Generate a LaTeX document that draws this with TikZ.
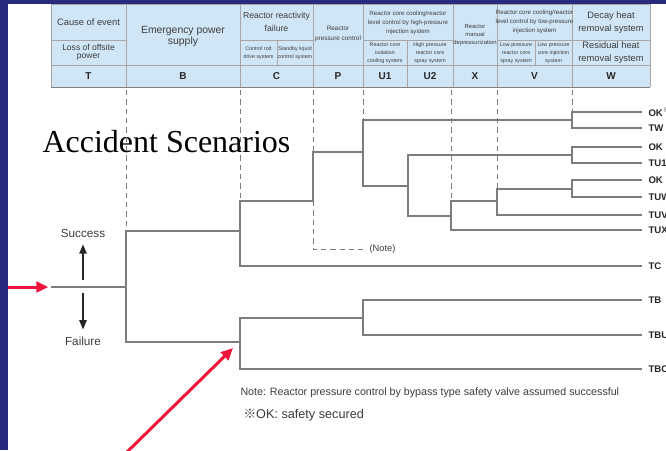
\documentclass[tikz,border=0pt]{standalone}
\usepackage{fontspec}
\setmainfont{Liberation Serif}
\setsansfont{Liberation Sans}
\newfontfamily\cjk{Noto Sans CJK JP}
\usetikzlibrary{arrows.meta}

\definecolor{slideblue}{RGB}{40,42,125}
\definecolor{headblue}{RGB}{208,230,246}
\definecolor{pointred}{RGB}{238,20,60}
\definecolor{treegray}{RGB}{125,125,125}
\definecolor{inkgray}{RGB}{60,60,60}

\tikzset{every picture/.style={line width=0.75pt}}

\begin{document}
\begin{tikzpicture}[x=0.75pt,y=0.75pt,yscale=-1,xscale=1,
	branch/.style={draw=treegray,line width=1pt},
	guide/.style={draw=treegray,line width=0.6pt,dash pattern={on 4pt off 3pt}},
	grid/.style={draw=gray!70,line width=0.6pt},
	leaf/.style={anchor=west,inner xsep=4.5pt,inner ysep=0pt,text=black!85,font=\sffamily\bfseries\fontsize{7.2}{8}\selectfont},
	cellbig/.style={align=center,inner sep=0pt,text=inkgray,font=\sffamily\fontsize{7}{9.75}\selectfont},
	cellmid/.style={align=center,inner sep=0pt,text=inkgray,font=\sffamily\fontsize{6.3}{6.2}\selectfont},
	cellsmall/.style={align=center,inner sep=0pt,text=inkgray,font=\sffamily\fontsize{4}{6.1}\selectfont},
	letter/.style={inner sep=0pt,text=black!85,font=\sffamily\bfseries\fontsize{7.5}{9}\selectfont},
	remark/.style={anchor=west,inner sep=0pt,text=inkgray,font=\sffamily\fontsize{8}{9}\selectfont},
	redarrow/.style={draw=pointred,line width=2.25pt,-{Triangle[length=9pt,width=8pt]}},
	inkarrow/.style={draw=black!85,line width=1pt,-{Triangle[length=7pt,width=5.5pt]}}]
	\useasboundingbox (0,0) rectangle (666,450);
	
	%slide background
	\fill [white] (0,0) rectangle (666,450);
	\fill [slideblue] (0,0) rectangle (8,450);
	\fill [slideblue] (0,0) rectangle (666,4);
	
	%Header table
	\fill [headblue] (51,4) rectangle (650,87);
	\draw [grid] (51,4) -- (650,4);
	\draw [grid] (51,40) -- (126,40);
	\draw [grid] (240,40) -- (313,40);
	\draw [grid] (363,40) -- (453,40);
	\draw [grid] (497,40) -- (650,40);
	\draw [grid] (51,65) -- (650,65);
	\draw [grid,draw=gray] (51,87) -- (650,87);
	\draw [grid] (51,4) -- (51,87);
	\draw [grid] (126,4) -- (126,87);
	\draw [grid] (240,4) -- (240,87);
	\draw [grid] (313,4) -- (313,87);
	\draw [grid] (363,4) -- (363,87);
	\draw [grid] (453,4) -- (453,87);
	\draw [grid] (497,4) -- (497,87);
	\draw [grid] (572,4) -- (572,87);
	\draw [grid] (650,4) -- (650,87);
	\draw [grid] (277,40) -- (277,65);
	\draw [grid] (407,40) -- (407,87);
	\draw [grid] (535,40) -- (535,65);
	
	% Text Node
	\node [cellbig] (hT) at (88.5,22) {Cause of event};
	\node [cellbig,font=\sffamily\fontsize{6.4}{6}\selectfont] (hTs) at (88.5,52.5) {Loss of offsite\\power};
	\node [cellbig,font=\sffamily\fontsize{7.8}{8.25}\selectfont] (hB) at (183,36) {Emergency power\\supply};
	\node [cellbig,font=\sffamily\fontsize{6.5}{9.5}\selectfont] (hC) at (276.5,22) {Reactor reactivity\\failure};
	\node [cellsmall] (hC1) at (258.5,53) {Control rod\\drive system};
	\node [cellsmall] (hC2) at (295,53) {Standby liquid\\control system};
	\node [cellmid,font=\sffamily\fontsize{4.8}{8}\selectfont] (hP) at (338,34) {Reactor\\pressure control};
	\node [cellsmall,font=\sffamily\fontsize{4.6}{7}\selectfont] (hU) at (408,23) {Reactor core cooling/reactor\\level control by high-pressure\\injection system};
	\node [cellsmall] (hU1) at (385,53) {Reactor core\\isolation\\cooling system};
	\node [cellsmall] (hU2) at (430,53) {High pressure\\reactor core\\spray system};
	\node [cellsmall,font=\sffamily\fontsize{4.4}{5.7}\selectfont] (hX) at (475,35) {Reactor\\manual\\depressurization};
	\node [cellsmall,font=\sffamily\fontsize{4.6}{7}\selectfont] (hV) at (534.5,22) {Reactor core cooling/reactor\\level control by low-pressure\\injection system};
	\node [cellsmall] (hV1) at (516,53) {Low pressure\\reactor core\\spray system};
	\node [cellsmall] (hV2) at (553.5,53) {Low pressure\\core injection\\system};
	\node [cellbig] (hW) at (611,22.5) {Decay heat\\removal system};
	\node [cellbig,font=\sffamily\fontsize{7}{9.75}\selectfont] (hWs) at (611,52.5) {Residual heat\\removal system};
	
	\node [letter] (lT) at (88.5,76) {T};
	\node [letter] (lB) at (183,76) {B};
	\node [letter] (lC) at (276.5,76) {C};
	\node [letter] (lP) at (338,76) {P};
	\node [letter] (lU1) at (385,76) {U1};
	\node [letter] (lU2) at (430,76) {U2};
	\node [letter] (lX) at (475,76) {X};
	\node [letter] (lV) at (534.5,76) {V};
	\node [letter] (lW) at (611,76) {W};
	
	% Text Node
	\node [anchor=base west,inner sep=0pt,font=\fontsize{24}{28}\selectfont] (title) at (42,152) {Accident Scenarios};
	
	%Branch points
	\coordinate (init) at (51,287);
	\coordinate (fB) at (126,287);
	\coordinate (fC1) at (240,231);
	\coordinate (fC2) at (240,342);
	\coordinate (fP) at (313,201);
	\coordinate (fU1) at (363,152);
	\coordinate (fW1) at (572,120);
	\coordinate (fU2) at (408,186);
	\coordinate (fW2) at (572,155);
	\coordinate (fX) at (451,216);
	\coordinate (fV) at (497,201);
	\coordinate (fW3) at (572,189);
	\coordinate (fU1b) at (363,318);
	
	%Outcome labels
	\node [leaf] (okA) at (642,112) {OK\textsuperscript{\cjk ※}};
	\node [leaf] (tw) at (642,128) {TW};
	\node [leaf] (okB) at (642,147) {OK};
	\node [leaf] (tuone) at (642,163) {TU1};
	\node [leaf] (okC) at (642,180) {OK};
	\node [leaf] (tuw) at (642,197) {TUW};
	\node [leaf] (tuv) at (642,215) {TUV};
	\node [leaf] (tux) at (642,230) {TUX};
	\node [leaf] (tc) at (642,266) {TC};
	\node [leaf] (tb) at (642,300) {TB};
	\node [leaf] (tbu) at (642,335) {TBU};
	\node [leaf] (tbc) at (642,369) {TBC};
	
	%Column guides
	\coordinate (gB) at (126,90);
	\coordinate (gC) at (240,90);
	\coordinate (gP) at (313,90);
	\coordinate (gU) at (363,90);
	\coordinate (gX) at (451,90);
	\coordinate (gV) at (497,90);
	\coordinate (gW) at (572,90);
	\draw [guide] (gB) -- (fB |- fC1);
	\draw [guide] (gC) -- (fC1 |- fP);
	\draw [guide] (gP) -- (fP |- fU1);
	\draw [guide] (gU) -- (fU1 |- fW1);
	\draw [guide] (gX) -- (fX |- fV);
	\draw [guide] (gV) -- (fV |- fW3);
	\draw [guide] (gW) -- (fW1 |- okA.west);
	
	%Event tree
	\draw [branch] (init) -- (fB);
	\draw [branch] (fB) |- (fC1);
	\draw [branch] (fB) |- (fC2);
	\draw [branch] (fC1) |- (fP);
	\draw [branch] (fC1) |- (tc.west);
	\draw [branch] (fP) |- (fU1);
	\draw [branch] (fU1) |- (fW1);
	\draw [branch] (fU1) |- (fU2);
	\draw [branch] (fW1) |- (okA.west);
	\draw [branch] (fW1) |- (tw.west);
	\draw [branch] (fU2) |- (fW2);
	\draw [branch] (fU2) |- (fX);
	\draw [branch] (fW2) |- (okB.west);
	\draw [branch] (fW2) |- (tuone.west);
	\draw [branch] (fX) |- (fV);
	\draw [branch] (fX) |- (tux.west);
	\draw [branch] (fV) |- (fW3);
	\draw [branch] (fV) |- (tuv.west);
	\draw [branch] (fW3) |- (okC.west);
	\draw [branch] (fW3) |- (tuw.west);
	\draw [branch] (fC2) |- (fU1b);
	\draw [branch] (fC2) |- (tbc.west);
	\draw [branch] (fU1b) |- (tb.west);
	\draw [branch] (fU1b) |- (tbu.west);
	
	%Note branch
	\node [remark,inner xsep=4.5pt,font=\sffamily\fontsize{7}{8}\selectfont] (note) at (363,249) {(Note)};
	\draw [guide] (fP) |- (note.west);
	
	%Success / failure legend
	\node [inner sep=0pt,text=inkgray,font=\sffamily\fontsize{8.8}{10}\selectfont] (succ) at (83,233) {Success};
	\node [inner sep=0pt,text=inkgray,font=\sffamily\fontsize{8.8}{10}\selectfont] (fail) at (83,341) {Failure};
	\coordinate (sa) at (83,280);
	\coordinate (fa) at (83,293);
	\draw [inkarrow,shorten >=5pt] (sa) -- (succ);
	\draw [inkarrow,shorten >=5pt] (fa) -- (fail);
	
	%Notes
	\node [remark] (rmk) at (240,393) {Note: Reactor pressure control by bypass type safety valve assumed successful};
	\node [remark,font=\sffamily\fontsize{9.5}{10}\selectfont] (okkey) at (243,415) {{\cjk ※}OK: safety secured};
	
	%Red pointers
	\coordinate (ra0) at (8,287);
	\coordinate (rb0) at (126,453);
	\coordinate (rb1) at (233,348);
	\draw [redarrow,shorten >=2pt] (ra0) -- (init);
	\draw [redarrow] (rb0) -- (rb1);
	
\end{tikzpicture}
\end{document}
